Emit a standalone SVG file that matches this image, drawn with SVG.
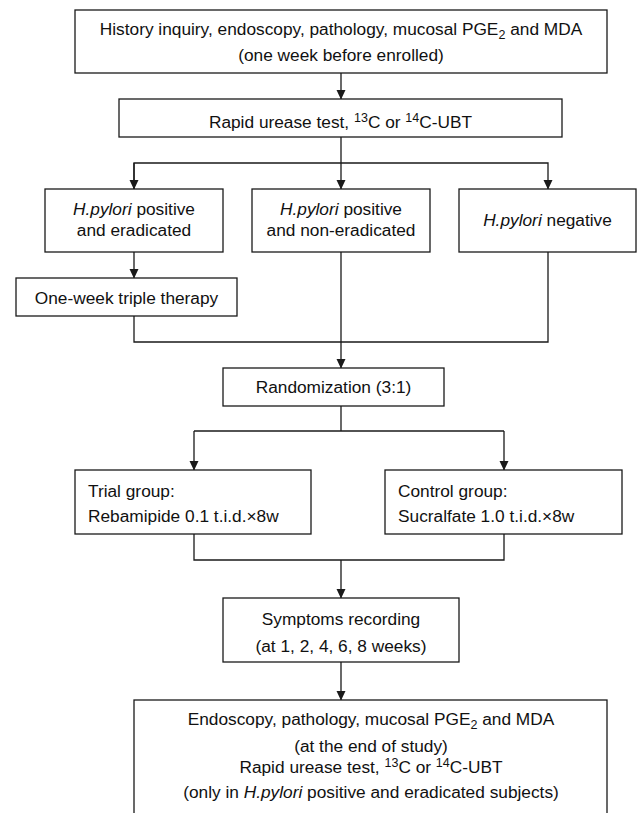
<svg xmlns="http://www.w3.org/2000/svg" width="638" height="813" viewBox="0 0 638 813">
<defs>
<marker id="ah" markerWidth="10" markerHeight="10" refX="9" refY="5" orient="auto" markerUnits="userSpaceOnUse">
<path d="M0,0.5 L9.5,5 L0,9.5 Z" fill="#1a1a1a"/>
</marker>
<style>
.box{fill:#fff;stroke:#1a1a1a;stroke-width:1.3}
.ln{fill:none;stroke:#1a1a1a;stroke-width:1.3}
text{font-family:"Liberation Sans",Arial,sans-serif;font-size:17.3px;fill:#111}
.c{text-anchor:middle}
.i{font-style:italic}
.s{font-size:12.5px}
</style>
</defs>
<rect width="638" height="813" fill="#fff"/>
<g id="connectors">
<line class="ln" x1="341" y1="73" x2="341" y2="99" marker-end="url(#ah)"/>
<polyline class="ln" points="341,137 341,163"/>
<polyline class="ln" points="134,189 134,163 548,163 548,189" marker-end="url(#ah)"/>
<line class="ln" x1="134" y1="163" x2="134" y2="189" marker-end="url(#ah)"/>
<line class="ln" x1="341" y1="163" x2="341" y2="189" marker-end="url(#ah)"/>
<line class="ln" x1="134" y1="252" x2="134" y2="278" marker-end="url(#ah)"/>
<polyline class="ln" points="134,316 134,342 548,342 548,252"/>
<line class="ln" x1="341" y1="252" x2="341" y2="368" marker-end="url(#ah)"/>
<polyline class="ln" points="341,406 341,431"/>
<polyline class="ln" points="194,431 504,431"/>
<line class="ln" x1="194" y1="431" x2="194" y2="470" marker-end="url(#ah)"/>
<line class="ln" x1="504" y1="431" x2="504" y2="470" marker-end="url(#ah)"/>
<polyline class="ln" points="194,534 194,560 504,560 504,534"/>
<line class="ln" x1="341" y1="560" x2="341" y2="598" marker-end="url(#ah)"/>
<line class="ln" x1="341" y1="662" x2="341" y2="700" marker-end="url(#ah)"/>
</g>
<g id="n1">
<rect class="box" x="75" y="10" width="532" height="63"/>
<text class="c" x="341" y="35">History inquiry, endoscopy, pathology, mucosal PGE<tspan class="s" dy="4">2</tspan><tspan dy="-4"> and MDA</tspan></text>
<text class="c" x="341" y="61">(one week before enrolled)</text>
</g>
<g id="n2">
<rect class="box" x="119" y="99" width="443" height="38"/>
<text class="c" x="340.5" y="128">Rapid urease test, <tspan class="s" dy="-6">13</tspan><tspan dy="6">C or </tspan><tspan class="s" dy="-6">14</tspan><tspan dy="6">C-UBT</tspan></text>
</g>
<g id="n3">
<rect class="box" x="45" y="189" width="178" height="63"/>
<text class="c" x="134" y="215"><tspan class="i">H.pylori</tspan> positive</text>
<text class="c" x="134" y="236">and eradicated</text>
</g>
<g id="n4">
<rect class="box" x="252" y="189" width="178" height="63"/>
<text class="c" x="341" y="215"><tspan class="i">H.pylori</tspan> positive</text>
<text class="c" x="341" y="236">and non-eradicated</text>
</g>
<g id="n5">
<rect class="box" x="459" y="189" width="177" height="63"/>
<text class="c" x="547.5" y="226"><tspan class="i">H.pylori</tspan> negative</text>
</g>
<g id="n6">
<rect class="box" x="16" y="278" width="221" height="38"/>
<text class="c" x="126.5" y="304">One-week triple therapy</text>
</g>
<g id="n7">
<rect class="box" x="223" y="368" width="221" height="38"/>
<text class="c" x="333.5" y="393">Randomization (3:1)</text>
</g>
<g id="n8">
<rect class="box" x="75" y="470" width="236" height="64"/>
<text x="88" y="497">Trial group:</text>
<text x="88" y="522">Rebamipide 0.1 t.i.d.×8w</text>
</g>
<g id="n9">
<rect class="box" x="385" y="470" width="237" height="64"/>
<text x="398" y="497">Control group:</text>
<text x="398" y="522">Sucralfate 1.0 t.i.d.×8w</text>
</g>
<g id="n10">
<rect class="box" x="223" y="598" width="236" height="64"/>
<text class="c" x="341" y="625">Symptoms recording</text>
<text class="c" x="341" y="652">(at 1, 2, 4, 6, 8 weeks)</text>
</g>
<g id="n11">
<rect class="box" x="134" y="700" width="473" height="130"/>
<text class="c" x="371" y="725">Endoscopy, pathology, mucosal PGE<tspan class="s" dy="4">2</tspan><tspan dy="-4"> and MDA</tspan></text>
<text class="c" x="371" y="752">(at the end of study)</text>
<text class="c" x="371" y="773">Rapid urease test, <tspan class="s" dy="-6">13</tspan><tspan dy="6">C or </tspan><tspan class="s" dy="-6">14</tspan><tspan dy="6">C-UBT</tspan></text>
<text class="c" x="371" y="798">(only in <tspan class="i">H.pylori</tspan> positive and eradicated subjects)</text>
</g>
</svg>
